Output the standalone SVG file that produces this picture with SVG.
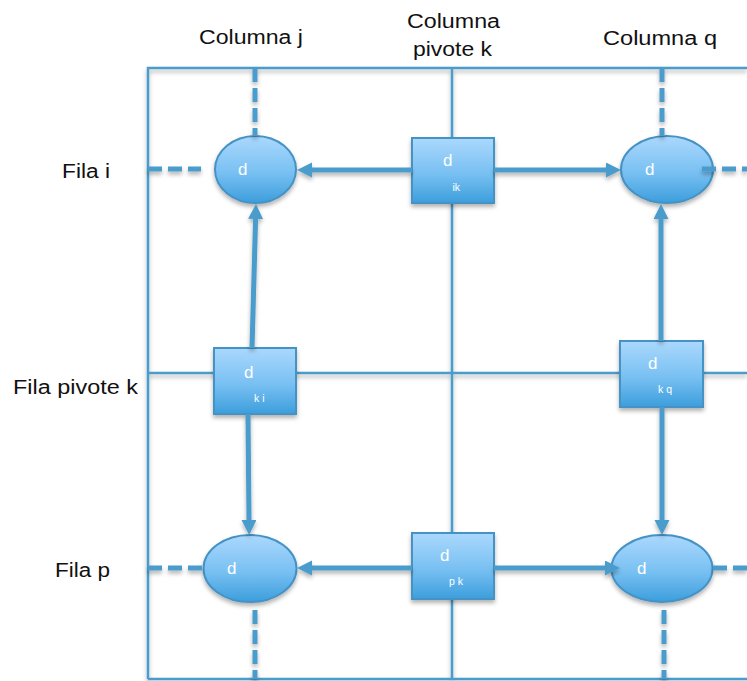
<svg xmlns="http://www.w3.org/2000/svg" width="747" height="681" viewBox="0 0 747 681">
  <defs>
    <linearGradient id="nodeFill" x1="0" y1="0" x2="0" y2="1">
      <stop offset="0" stop-color="#abd8fd"/>
      <stop offset="0.55" stop-color="#78c0f2"/>
      <stop offset="1" stop-color="#3c9edc"/>
    </linearGradient>
    <filter id="shadow" x="-20%" y="-20%" width="140%" height="150%">
      <feDropShadow dx="0" dy="3" stdDeviation="2" flood-color="#000" flood-opacity="0.3"/>
    </filter>
    <marker id="arrow" markerUnits="userSpaceOnUse" markerWidth="16" markerHeight="16" refX="0" refY="7.5" orient="auto">
      <path d="M0,0 L15,7.5 L0,15 z" fill="#4a9ccc"/>
    </marker>
    <style>
      .grid { stroke: #4a9ccc; stroke-width: 2.5; fill: none; }
      .node { fill: url(#nodeFill); stroke: #4592c4; stroke-width: 2; filter: url(#shadow); }
      .conn { stroke: #4a9ccc; stroke-width: 5; fill: none; marker-end: url(#arrow); }
      .dash { stroke: #4a9ccc; stroke-width: 5; fill: none; stroke-dasharray: 14 6; }
      .label { font-family: "Liberation Sans", Arial, sans-serif; font-size: 19.5px; fill: #111; }
      .d { font-family: "Liberation Sans", Arial, sans-serif; font-size: 17px; fill: #fff; }
      .sub { font-family: "Liberation Sans", Arial, sans-serif; font-size: 10.5px; fill: #fff; }
    </style>
  </defs>

  <rect width="747" height="681" fill="#fff"/>

  <!-- header labels -->
  <g id="labels">
    <text class="label" x="199" y="44" textLength="104" lengthAdjust="spacingAndGlyphs">Columna j</text>
    <text class="label" x="407" y="28" textLength="93" lengthAdjust="spacingAndGlyphs">Columna</text>
    <text class="label" x="413" y="56" textLength="79" lengthAdjust="spacingAndGlyphs">pivote k</text>
    <text class="label" x="603" y="45" textLength="114" lengthAdjust="spacingAndGlyphs">Columna q</text>
    <text class="label" x="62" y="178" textLength="48" lengthAdjust="spacingAndGlyphs">Fila i</text>
    <text class="label" x="13" y="394" textLength="125" lengthAdjust="spacingAndGlyphs">Fila pivote k</text>
    <text class="label" x="55" y="577" textLength="55" lengthAdjust="spacingAndGlyphs">Fila p</text>
  </g>

  <!-- grid frame -->
  <g id="grid" filter="url(#shadow)">
    <path class="grid" d="M148,679 V68 H747"/>
    <path class="grid" d="M148,679 H747"/>
    <path class="grid" d="M452,68 V679"/>
    <path class="grid" d="M148,373 H747"/>
  </g>

  <!-- nodes -->
  <g id="d-ij">
    <ellipse class="node" cx="255.5" cy="169.5" rx="40.5" ry="33.5"/>
    <text class="d" x="238" y="175">d</text>
  </g>
  <g id="d-ik">
    <rect class="node" x="412" y="138" width="82" height="65"/>
    <text class="d" x="443" y="166">d</text>
    <text class="sub" x="452.5" y="191">ik</text>
  </g>
  <g id="d-iq">
    <ellipse class="node" cx="667" cy="169.5" rx="46" ry="33.5"/>
    <text class="d" x="645" y="175">d</text>
  </g>
  <g id="d-ki">
    <rect class="node" x="214" y="348" width="82" height="66"/>
    <text class="d" x="244" y="378">d</text>
    <text class="sub" x="254" y="402">k i</text>
  </g>
  <g id="d-kq">
    <rect class="node" x="620" y="341" width="83" height="66"/>
    <text class="d" x="648" y="369">d</text>
    <text class="sub" x="658" y="393">k q</text>
  </g>
  <g id="d-pj">
    <ellipse class="node" cx="250" cy="568.5" rx="46.5" ry="33.5"/>
    <text class="d" x="227" y="574">d</text>
  </g>
  <g id="d-pk">
    <rect class="node" x="412" y="533" width="82" height="66"/>
    <text class="d" x="440" y="561">d</text>
    <text class="sub" x="449" y="585">p k</text>
  </g>
  <g id="d-pq">
    <ellipse class="node" cx="662" cy="568.5" rx="50.5" ry="33.5"/>
    <text class="d" x="637" y="574">d</text>
  </g>

  <!-- connectors -->
  <g id="connectors" filter="url(#shadow)">
    <path class="conn" d="M412,170 H312"/>
    <path class="conn" d="M494,170 H606"/>
    <path class="conn" d="M412,568 H312"/>
    <path class="conn" d="M494,568 H605"/>
    <path class="conn" d="M252,348 L255.6,219"/>
    <path class="conn" d="M248,414 L249,520"/>
    <path class="conn" d="M661,341 V219"/>
    <path class="conn" d="M662,407 V520"/>
    <path class="dash" d="M148,169 H201"/>
    <path class="dash" d="M148,568 H203"/>
    <path class="dash" d="M702,169 H747"/>
    <path class="dash" d="M713,568 H747"/>
    <path class="dash" d="M255,68 V136"/>
    <path class="dash" d="M662,68 V136"/>
    <path class="dash" d="M255,610 V679"/>
    <path class="dash" d="M664,610 V679"/>
  </g>
</svg>
